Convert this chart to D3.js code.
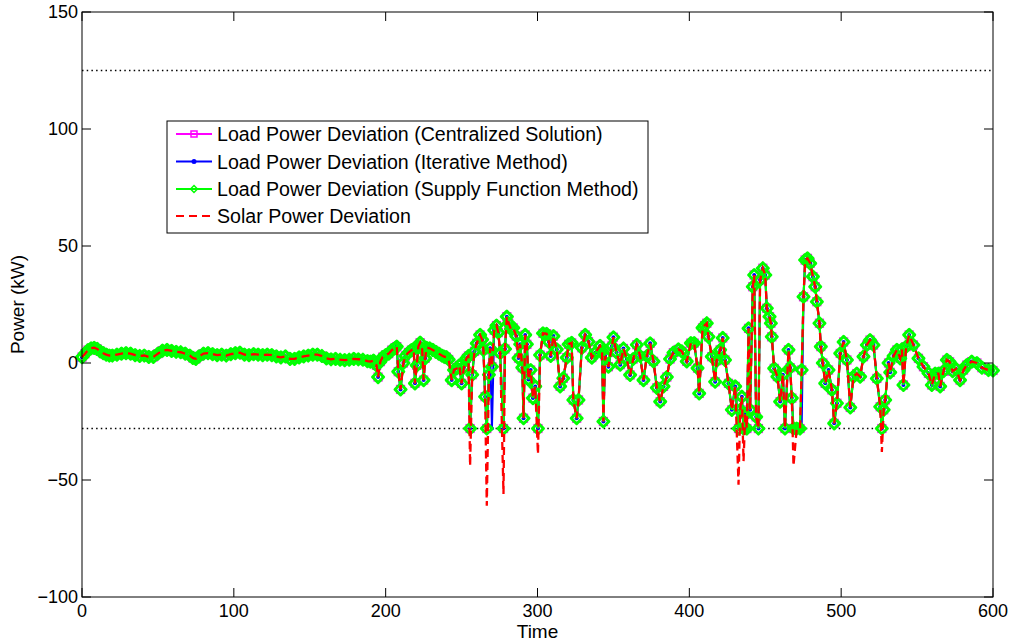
<!DOCTYPE html>
<html><head><meta charset="utf-8">
<script src="https://cdn.jsdelivr.net/npm/d3@7"></script>
<style>body{margin:0;background:#fff} text{font-family:"Liberation Sans",Arial,Helvetica,sans-serif}</style>
</head><body><svg id="c" width="1012" height="644"></svg>
<script>
const xTicks=[0,100,200,300,400,500,600];
const yTicks=[-100,-50,0,50,100,150];
const limitLines=[125,-28];
const legendLabels=["Load Power Deviation (Centralized Solution)","Load Power Deviation (Iterative Method)","Load Power Deviation (Supply Function Method)","Solar Power Deviation"];
// [time, kW] load power deviation
const loadDev=[[0,2.5],[2,4],[4,5.5],[6,6.3],[8,6.5],[10,6],[12,5],[14,4.2],[16,3.6],[18,3.2],[20,3.2],[23,3.6],[26,4],[29,4.2],[32,4],[35,3.4],[38,3],[41,3.2],[44,2.6],[47,2.6],[50,4],[53,5.3],[56,5.6],[59,5.2],[62,4.8],[65,4.6],[68,4],[71,3.2],[73,2.2],[75,1.8],[77,2.8],[80,4],[83,4.2],[86,3.8],[89,3.4],[92,3.6],[95,3.2],[98,3.8],[101,4.2],[104,4.4],[107,3.6],[110,3.4],[113,3.8],[116,3.6],[119,3.4],[122,3.6],[125,3.4],[128,2.8],[131,2.4],[134,2.8],[137,1.8],[140,1.8],[143,2.4],[146,2.8],[149,3.2],[152,3.6],[155,3.6],[158,3],[161,2],[164,1.6],[167,1.8],[170,1.4],[173,1.2],[176,1.4],[179,1.8],[182,1.6],[185,1.4],[188,0.8],[190,0.6],[192,1],[194,-1],[195,-6],[196.5,0.6],[198,2.5],[200,3.4],[202,4],[204,5.5],[206,6.3],[207.3,7],[208.3,-3.7],[209.8,-11.3],[211.7,0],[213,3],[215,4.5],[217,5.5],[218.5,6],[219.3,-8.7],[220.5,-1],[221.5,7],[222.7,8.7],[224,6],[225,-7.3],[226,2],[227,6.5],[229,6.3],[231,5.6],[233,4.8],[235,4],[237,3.2],[238.5,2.7],[240,2.5],[241.5,1.5],[243.5,-7.3],[245,-3],[246.8,-2.3],[248.5,-1],[250,-8.7],[251.5,-2],[253.2,2],[254.5,3],[255.6,-28],[257,-5],[258.5,5],[260,8.4],[262.2,12],[263.5,10],[264.4,5.6],[265.5,-14.4],[266.6,-28],[268,-5],[268.8,6.3],[270,-1.6],[271.5,14],[273,16],[274.2,13],[275.4,4.2],[277.6,-28],[278.6,6],[279.8,19.8],[281,17],[282.5,14.5],[284,15],[286,11.5],[287.5,2.1],[288.6,8],[290,-2],[290.8,-23.6],[291.9,12],[293,8],[294,-7],[295.5,-3],[297,-15],[298.5,-10],[300.3,-28],[301.7,3.4],[303.6,12.7],[306,12.5],[307.5,9],[308.7,3],[310.5,11.5],[312.7,5.8],[314.9,-10],[317,-6.5],[319.3,2.3],[320.5,8],[322.5,8.6],[323.6,-15.8],[325.8,-23.6],[327,-15.8],[329.2,6.5],[331.4,12],[333.6,9.1],[335.8,2.3],[338,4.4],[341.2,7.3],[342.5,5],[343.4,-25],[344.5,3],[346.7,-1.6],[349,7.3],[350,11],[352,4.5],[354.5,-0.7],[356.6,6.2],[358.8,1.7],[361,-5.1],[363,1.7],[365.4,7.8],[367.6,3],[369.8,-7.3],[372,3],[374.2,8.4],[376.4,0.7],[378.6,-10.6],[380.8,-16.5],[383,-10],[385.2,-6],[387.3,1.7],[389.5,4.4],[392.8,5.8],[395,5],[398.3,0.7],[401,8.5],[403.2,8.5],[405.4,-2.2],[406.5,-13],[408.7,15],[410,16],[411.5,17],[412.6,11.2],[414.8,2.7],[417,-8],[418,1],[420.3,5.6],[422,10.7],[423.5,1.3],[425.8,-8.7],[428,-20],[430.2,-10],[432.4,-28],[433.5,-20],[434.6,-14.4],[435.7,-28],[436.8,-22],[437.9,-28],[439,14.8],[440,-20],[441.8,32.6],[442.7,37.6],[444,-23],[445.5,-28],[446.6,35.5],[448.4,40.5],[450,37.6],[451,23.4],[452.8,19.8],[453.7,17],[454.3,11.2],[455.9,-2.3],[458,-5.8],[459.8,-16.5],[461.6,-5],[463,-28],[465.3,5.6],[466.4,-2],[467.5,-15],[468.6,-28],[470.7,-28],[472.9,-28],[474,-3],[475.2,28.3],[476.3,44],[477.8,44.7],[479.6,42.6],[481.4,36.9],[482.9,32.6],[484,26.2],[485.7,17],[486.6,7],[487.9,0],[489.5,-8.7],[491.7,-3],[493.9,-11.5],[495.4,-25.8],[497.2,-17.2],[499.4,4.1],[501.6,9],[503.8,1.3],[506,-19],[508.1,-5.8],[510.3,-4.5],[512.5,-5.8],[514.7,2.7],[516.9,7.7],[519,9.8],[521.3,7.7],[523.5,-6.6],[525.7,-18.7],[526.8,-28],[528,-20],[529,-15.8],[531.2,0],[532.3,-4],[534.5,3],[536.7,5.6],[538.9,2],[540,5.8],[541,-9.4],[542.8,7],[544.8,12],[547.6,7.7],[550.9,2],[554.2,-1.6],[557.5,-4.4],[559.7,-9.4],[561.9,-4.5],[564.1,-4.5],[565.2,-10],[567.4,-3.5],[569.6,1.3],[571.4,0.5],[573.4,-3.5],[575.6,-2.5],[578.3,-7.3],[580.6,-3],[582.7,-0.9],[586,0.6],[589.4,0],[592.7,-2],[597,-3],[600,-3.2]];
// points where the iterative method differs
const iterativeDiff=[[270,-28],[474,-28]];
// points where the solar deviation goes below the clipped load value
const solarBelow=[[255.6,-44],[266.6,-61],[277.6,-56],[300.3,-39],[432.4,-52],[435.7,-42],[468.6,-44],[526.8,-38]];

function withOverrides(base, over){
  const m=new Map(over.map(d=>[d[0],d[1]]));
  return base.map(([t,v])=>[t, m.has(t)?m.get(t):v]);
}
const centralized=loadDev;
const iterative=withOverrides(loadDev,iterativeDiff);
const supply=loadDev;
const solar=withOverrides(loadDev,solarBelow);

const L=82,R=993,T=12,B=597;
const svg=d3.select("#c");
const x=d3.scaleLinear().domain([0,600]).range([L,R]);
const y=d3.scaleLinear().domain([-100,150]).range([B,T]);
const fs=18;

// dotted limit lines
svg.selectAll(".lim").data(limitLines).enter().append("line")
  .attr("x1",L).attr("x2",R).attr("y1",d=>y(d)).attr("y2",d=>y(d))
  .attr("stroke","#000").attr("stroke-width",1.6).attr("stroke-dasharray","1.5,3.2");

const line=d3.line().x(d=>x(d[0])).y(d=>y(d[1]));
const g=svg.append("g");
// centralized: magenta squares
g.append("path").attr("d",line(centralized)).attr("fill","none").attr("stroke","#ff00ff").attr("stroke-width",2);
g.selectAll(".sq").data(centralized).enter().append("rect")
  .attr("x",d=>x(d[0])-4).attr("y",d=>y(d[1])-4).attr("width",8).attr("height",8)
  .attr("fill","none").attr("stroke","#ff00ff").attr("stroke-width",1.2);
// iterative: blue dots
g.append("path").attr("d",line(iterative)).attr("fill","none").attr("stroke","#0000ff").attr("stroke-width",2);
g.selectAll(".dot").data(iterative).enter().append("circle")
  .attr("cx",d=>x(d[0])).attr("cy",d=>y(d[1])).attr("r",2).attr("fill","#0000ff");
// supply: green diamonds
g.append("path").attr("d",line(supply)).attr("fill","none").attr("stroke","#00ff00").attr("stroke-width",2.2);
const dia=d3.symbol().type(d3.symbolDiamond2).size(78);
g.selectAll(".dm").data(supply).enter().append("path")
  .attr("d",dia).attr("transform",d=>`translate(${x(d[0])},${y(d[1])})`)
  .attr("fill","none").attr("stroke","#00ff00").attr("stroke-width",3).attr("stroke-linejoin","round");
// solar: red dashed
g.append("path").attr("d",line(solar)).attr("fill","none").attr("stroke","#ff0000").attr("stroke-width",2.3).attr("stroke-dasharray","8,5");

// axes box
svg.append("rect").attr("x",L).attr("y",T).attr("width",R-L).attr("height",B-T).attr("fill","none").attr("stroke","#000").attr("stroke-width",1);
const tl=9;
const ax=svg.append("g");
xTicks.forEach(t=>{
  ax.append("line").attr("x1",x(t)).attr("x2",x(t)).attr("y1",B).attr("y2",B-tl).attr("stroke","#000");
  ax.append("line").attr("x1",x(t)).attr("x2",x(t)).attr("y1",T).attr("y2",T+tl).attr("stroke","#000");
  ax.append("text").attr("x",x(t)).attr("y",B+20).attr("text-anchor","middle").attr("font-size",fs).text(t);
});
yTicks.forEach(t=>{
  ax.append("line").attr("x1",L).attr("x2",L+tl).attr("y1",y(t)).attr("y2",y(t)).attr("stroke","#000");
  ax.append("line").attr("x1",R).attr("x2",R-tl).attr("y1",y(t)).attr("y2",y(t)).attr("stroke","#000");
  ax.append("text").attr("x",L-4).attr("y",y(t)+6).attr("text-anchor","end").attr("font-size",fs).text(t<0?"\u2212"+Math.abs(t):t);
});
svg.append("text").attr("x",(L+R)/2).attr("y",638).attr("text-anchor","middle").attr("font-size",19).text("Time");
svg.append("text").attr("transform",`translate(24,${(T+B)/2}) rotate(-90)`).attr("text-anchor","middle").attr("font-size",19).text("Power (kW)");

// legend
const lg=svg.append("g");
lg.append("rect").attr("x",167).attr("y",121).attr("width",481).attr("height",112).attr("fill","#fff").attr("stroke","#000").attr("stroke-width",1);
const rows=[134,161.5,189,216];
const cols=["#ff00ff","#0000ff","#00ff00","#ff0000"];
legendLabels.forEach((lab,i)=>{
  const ry=rows[i];
  lg.append("line").attr("x1",176).attr("x2",212).attr("y1",ry).attr("y2",ry).attr("stroke",cols[i]).attr("stroke-width",2)
    .attr("stroke-dasharray",i===3?"8,5":null);
  if(i===0) lg.append("rect").attr("x",191).attr("y",ry-3).attr("width",6).attr("height",6).attr("fill","none").attr("stroke",cols[i]).attr("stroke-width",1.5);
  if(i===1) lg.append("circle").attr("cx",194).attr("cy",ry).attr("r",2.5).attr("fill",cols[i]);
  if(i===2) lg.append("path").attr("d",d3.symbol().type(d3.symbolDiamond2).size(30)).attr("transform",`translate(194,${ry})`).attr("fill","none").attr("stroke",cols[i]).attr("stroke-width",1.5);
  lg.append("text").attr("x",217).attr("y",ry+7).attr("font-size",19.6).text(lab);
});
</script></body></html>
